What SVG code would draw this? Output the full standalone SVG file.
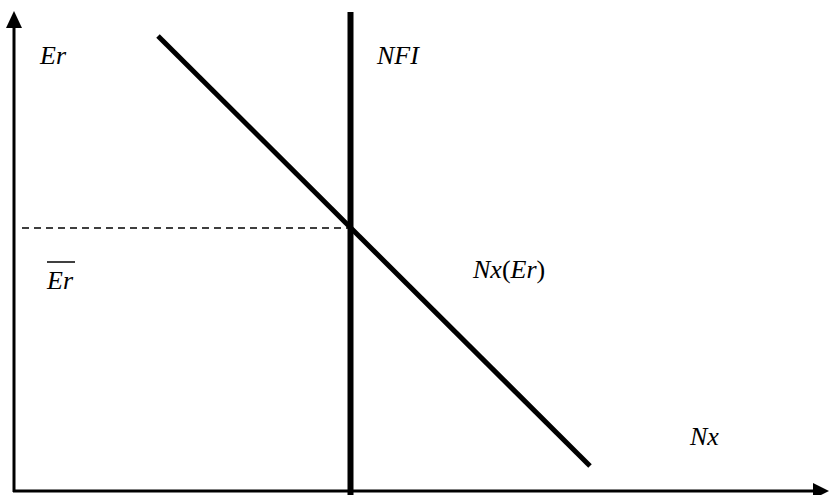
<svg xmlns="http://www.w3.org/2000/svg" width="829" height="495" viewBox="0 0 829 495">
<style>
text{font-family:'Liberation Serif','Times New Roman',serif;font-style:italic;font-size:26px;fill:#000}
.up{font-style:normal}
</style>
<rect width="829" height="495" fill="#fff"/>
<g id="connectors">
<line id="y-axis" x1="14" y1="492" x2="14" y2="26" stroke="#000" stroke-width="3"/>
<polygon points="14,11 6,28 22,28" fill="#000"/>
<line id="x-axis" x1="13" y1="491" x2="814" y2="491" stroke="#000" stroke-width="3"/>
<polygon points="829,491 813,483 813,499" fill="#000"/>
<line id="nfi" x1="350.5" y1="12" x2="350.5" y2="495" stroke="#000" stroke-width="6"/>
<line id="nx-er" x1="158" y1="36" x2="590" y2="466" stroke="#000" stroke-width="5"/>
<line id="dash" x1="22" y1="228" x2="350" y2="228" stroke="#000" stroke-width="1.5" stroke-dasharray="7,5"/>
</g>
<g id="label-er"><text x="40" y="64">Er</text></g>
<g id="label-nfi"><text x="377" y="64">NFI</text></g>
<g id="label-erbar"><text x="47" y="289">Er</text><line x1="47" y1="262" x2="75" y2="262" stroke="#000" stroke-width="1.5"/></g>
<g id="label-nxer"><text x="473" y="278">Nx<tspan class="up">(</tspan>Er<tspan class="up">)</tspan></text></g>
<g id="label-nx"><text x="690" y="445">Nx</text></g>
</svg>
